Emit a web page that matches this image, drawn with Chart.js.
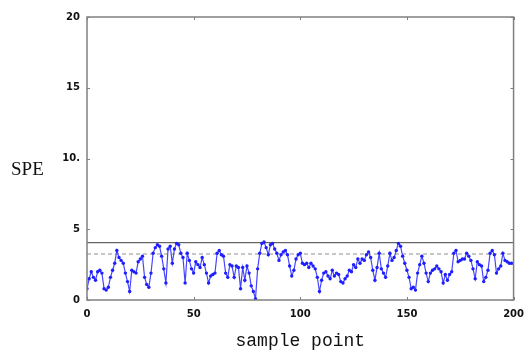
<!DOCTYPE html>
<html>
<head>
<meta charset="utf-8">
<script src="https://cdn.jsdelivr.net/npm/chart.js@4.4.1/dist/chart.umd.min.js"></script>
<style>
  html, body { margin: 0; padding: 0; background: #fff; }
  #wrap { position: relative; width: 532px; height: 352px; }
  #yTitle { position: absolute; left: 11px; top: 158px; font-family: "Liberation Serif", serif; font-size: 19px; color: #111; }
</style>
</head>
<body>
<div id="wrap">
  <canvas id="c" width="532" height="352"></canvas>
  <span id="yTitle">SPE</span>
</div>
<script>
// ---- data ----
const spe = [
  0.8,1.5,2.0,1.6,1.4,2.0,2.1,1.9,0.8,0.7,
  0.9,1.6,2.1,2.6,3.5,3.0,2.8,2.6,1.9,1.3,
  0.6,2.1,2.0,1.9,2.7,2.9,3.1,1.6,1.1,0.9,
  1.9,3.3,3.7,3.9,3.8,3.1,2.2,1.2,3.6,3.8,
  2.6,3.6,4.0,3.9,3.3,3.0,1.2,3.3,2.8,2.2,
  1.9,2.7,2.5,2.3,3.0,2.5,1.9,1.2,1.7,1.8,
  1.9,3.3,3.5,3.2,3.1,1.9,1.6,2.5,2.4,1.6,
  2.4,2.3,0.8,2.3,1.4,2.4,1.9,1.0,0.6,0.1,
  2.2,3.3,4.0,4.1,3.7,3.2,3.9,4.0,3.6,3.3,
  2.8,3.2,3.4,3.5,3.2,2.4,1.7,2.1,2.9,3.2,
  3.3,2.6,2.5,2.6,2.3,2.6,2.4,2.2,1.6,0.6,
  1.4,1.9,2.0,1.7,1.5,2.1,1.7,1.9,1.8,1.3,
  1.2,1.5,1.7,2.1,2.0,2.5,2.3,2.9,2.6,2.9,
  2.8,3.2,3.4,3.0,2.1,1.4,2.3,3.3,2.2,1.9,
  1.6,2.4,3.3,2.8,3.0,3.5,4.0,3.8,3.1,2.6,
  2.1,1.6,0.8,0.9,0.7,1.9,2.5,3.1,2.6,1.9,
  1.3,1.9,2.1,2.2,2.4,2.2,2.0,1.2,1.8,1.4,
  1.8,2.0,3.3,3.5,2.7,2.8,2.9,2.9,3.3,3.1,
  2.8,2.2,1.5,2.7,2.5,2.4,1.3,1.6,2.1,3.3,
  3.5,3.2,1.9,2.2,2.4,3.3,2.8,2.7,2.6,2.6,
  2.6
];
const controlLimit = 4.05;   // solid line
const meanLimit = 3.25;      // dashed line
const xRange = [0, 200];
const yRange = [0, 20];
const xTicks = [0, 50, 100, 150, 200];
const yTicks = [0, 5, 10, 15, 20];
const yTickLabels = ['0', '5', '10.', '15', '20'];
const xTitle = 'sample point';

const frame = {
  id: 'frame',
  afterDraw(chart) {
    const { ctx, chartArea: a, scales } = chart;
    ctx.save();
    ctx.strokeStyle = '#808080';
    ctx.lineWidth = 1.5;
    ctx.strokeRect(a.left, a.top, a.right - a.left, a.bottom - a.top);
    ctx.lineWidth = 1;
    xTicks.forEach(v => {
      const px = Math.round(scales.x.getPixelForValue(v)) + 0.5;
      ctx.beginPath(); ctx.moveTo(px, a.bottom); ctx.lineTo(px, a.bottom - 3); ctx.stroke();
      ctx.beginPath(); ctx.moveTo(px, a.top); ctx.lineTo(px, a.top + 3); ctx.stroke();
    });
    yTicks.forEach(v => {
      const py = Math.round(scales.y.getPixelForValue(v)) + 0.5;
      ctx.beginPath(); ctx.moveTo(a.left, py); ctx.lineTo(a.left + 3, py); ctx.stroke();
      ctx.beginPath(); ctx.moveTo(a.right, py); ctx.lineTo(a.right - 3, py); ctx.stroke();
    });
    ctx.restore();
  }
};

new Chart(document.getElementById('c'), {
  type: 'line',
  data: {
    datasets: [
      {
        data: spe.map((v, i) => ({ x: i, y: v })),
        borderColor: '#4646ff',
        backgroundColor: '#1e1eff',
        borderWidth: 1.2,
        pointRadius: 1.7,
        pointBorderWidth: 0,
        tension: 0
      },
      {
        data: xRange.map(x => ({ x, y: controlLimit })),
        borderColor: '#404040',
        borderWidth: 1,
        pointRadius: 0
      },
      {
        data: xRange.map(x => ({ x, y: meanLimit })),
        borderColor: '#909090',
        borderWidth: 1,
        borderDash: [4, 3],
        pointRadius: 0
      }
    ]
  },
  plugins: [frame],
  options: {
    responsive: false,
    animation: false,
    layout: { padding: { top: 17, right: 12, left: 0, bottom: 0 } },
    plugins: { legend: { display: false }, tooltip: { enabled: false } },
    scales: {
      x: {
        type: 'linear',
        min: xRange[0], max: xRange[1],
        afterBuildTicks(s) { s.ticks = xTicks.map(v => ({ value: v })); },
        afterFit(s) { s.height = 52; },
        grid: { display: false, drawTicks: false },
        border: { display: false },
        ticks: { padding: 8, color: '#111', font: { family: 'DejaVu Sans', weight: 'bold', size: 10 } },
        title: { display: true, text: xTitle, color: '#111', padding: { top: 0, bottom: 0 },
                 font: { family: 'Liberation Mono', size: 18 } }
      },
      y: {
        min: yRange[0], max: yRange[1],
        afterBuildTicks(s) { s.ticks = yTicks.map(v => ({ value: v })); },
        afterFit(s) { s.width = 87; },
        grid: { display: false, drawTicks: false },
        border: { display: false },
        ticks: {
          padding: 7, color: '#111',
          font: { family: 'DejaVu Sans', weight: 'bold', size: 10 },
          callback: (v) => yTickLabels[yTicks.indexOf(v)]
        }
      }
    }
  }
});
</script>
</body>
</html>
